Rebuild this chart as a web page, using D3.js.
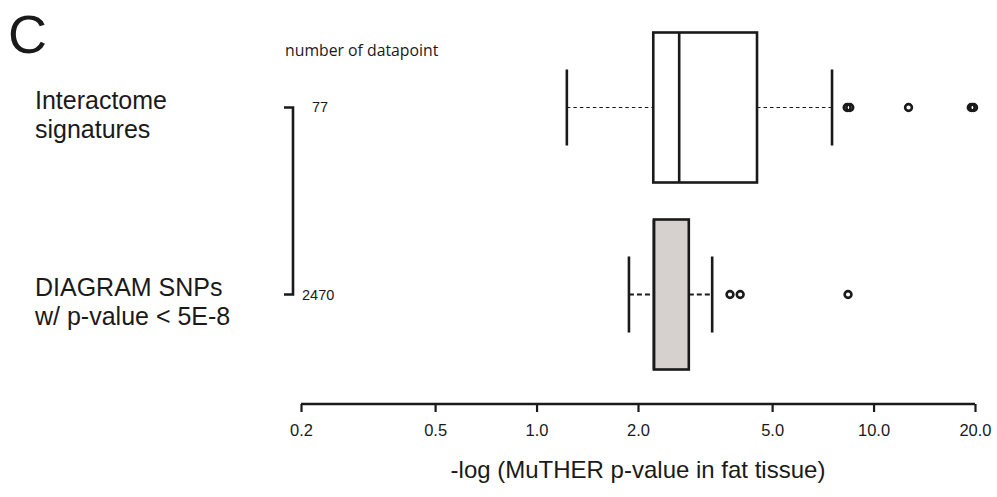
<!DOCTYPE html>
<html><head><meta charset="utf-8">
<script src="https://cdn.jsdelivr.net/npm/d3@7"></script>
<style>body{margin:0;background:#fff}svg{display:block}</style>
</head><body>
<script>
// ---- data ----
const groups = ["Interactome signatures", "DIAGRAM SNPs w/ p-value < 5E-8"];
const groupLines = [["Interactome", "signatures"], ["DIAGRAM SNPs", "w/ p-value < 5E-8"]];
const counts = [77, 2470];
const whiskerLow = [1.23, 1.88];
const q1 = [2.22, 2.23];
const median = [2.65, 2.23];
const q3 = [4.51, 2.83];
const whiskerHigh = [7.53, 3.32];
const outliers = [[8.35, 8.5, 12.7, 19.5, 19.8], [3.75, 4.02, 8.4]];
const boxFill = ["#ffffff", "#d6d0ce"];
const tickValues = [0.2, 0.5, 1.0, 2.0, 5.0, 10.0, 20.0];
const tickLabels = ["0.2", "0.5", "1.0", "2.0", "5.0", "10.0", "20.0"];
const xTitle = "-log (MuTHER p-value in fat tissue)";

const W = 997, H = 497;
const ink = "#1a1a1a";
const svg = d3.select("body").append("svg").attr("width", W).attr("height", H)
  .style("font-family", "'Liberation Sans', Arial, sans-serif");
const x = d3.scaleLog().domain([0.2, 20]).range([301, 975]);
const y = d3.scaleBand().domain(groups).range([32.5, 369.5]).paddingInner(37 / 187).paddingOuter(0);

// axis
const axisG = svg.append("g").attr("transform", "translate(0,404)")
  .call(d3.axisBottom(x).tickValues(tickValues).tickFormat((d, i) => tickLabels[i]).tickSize(8).tickPadding(12).tickSizeOuter(0));
axisG.select(".domain").attr("stroke", ink).attr("stroke-width", 2.5).attr("d", `M${x(0.2)},0H${x(20)}`);
axisG.selectAll(".tick line").attr("stroke", ink).attr("stroke-width", 2.2);
axisG.selectAll(".tick text").style("font-size", "16.5px").style("font-family", "'Liberation Sans', Arial").attr("fill", ink);

svg.append("text").attr("x", x(2.0)).attr("y", 478).attr("text-anchor", "middle").attr("fill", ink)
  .style("font-size", "24px").text(xTitle);

// boxes
groups.forEach((g, i) => {
  const top = y(g), bh = y.bandwidth(), cy = top + bh / 2;
  const capH = bh * 0.507;
  const G = svg.append("g");
  const dashW = i === 0 ? 1 : 2.2, dash = i === 0 ? "3.5,3" : "5,3";
  G.append("line").attr("x1", x(whiskerLow[i])).attr("x2", x(q1[i])).attr("y1", cy).attr("y2", cy)
    .attr("stroke", ink).attr("stroke-width", dashW).attr("stroke-dasharray", dash);
  G.append("line").attr("x1", x(q3[i])).attr("x2", x(whiskerHigh[i])).attr("y1", cy).attr("y2", cy)
    .attr("stroke", ink).attr("stroke-width", dashW).attr("stroke-dasharray", dash);
  [whiskerLow[i], whiskerHigh[i]].forEach(v => {
    G.append("line").attr("x1", x(v)).attr("x2", x(v)).attr("y1", cy - capH / 2).attr("y2", cy + capH / 2)
      .attr("stroke", ink).attr("stroke-width", 2.6);
  });
  G.append("rect").attr("x", x(q1[i])).attr("y", top).attr("width", x(q3[i]) - x(q1[i])).attr("height", bh)
    .attr("fill", boxFill[i]).attr("stroke", ink).attr("stroke-width", 2.6);
  G.append("line").attr("x1", x(median[i])).attr("x2", x(median[i])).attr("y1", top).attr("y2", top + bh)
    .attr("stroke", ink).attr("stroke-width", 2.6);
  G.selectAll("circle").data(outliers[i]).join("circle")
    .attr("cx", d => x(d)).attr("cy", cy).attr("r", 3.4)
    .attr("fill", "none").attr("stroke", ink).attr("stroke-width", 2.6);

  // group labels
  groupLines[i].forEach((t, k) => {
    svg.append("text").attr("x", 35).attr("y", cy + (k === 0 ? 1 : 30)).attr("fill", ink)
      .style("font-size", "25px").text(t);
  });
});

// bracket + counts
const c0 = y(groups[0]) + y.bandwidth() / 2, c1 = y(groups[1]) + y.bandwidth() / 2;
svg.append("path").attr("d", `M284,${c0}H293V${c1}H284`).attr("fill", "none").attr("stroke", ink).attr("stroke-width", 2.6);
svg.append("text").attr("x", 312).attr("y", c0 + 4).attr("fill", ink).style("font-size", "14.5px").text(counts[0]);
svg.append("text").attr("x", 302).attr("y", c1 + 5.5).attr("fill", ink).style("font-size", "14.5px").text(counts[1]);
svg.append("text").attr("x", 285).attr("y", 56).attr("fill", ink)
  .style("font-family", "'Open Sans', 'Liberation Sans', sans-serif").style("font-size", "15.8px").text("number of datapoint");

svg.append("text").attr("x", 8).attr("y", 53).attr("fill", ink).style("font-size", "54px").text("C");
</script>
</body></html>
